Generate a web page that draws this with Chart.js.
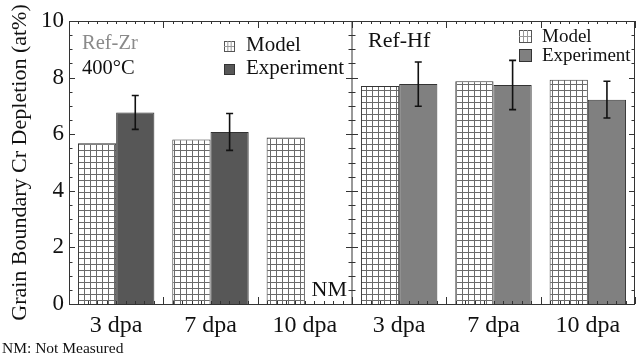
<!DOCTYPE html>
<html>
<head>
<meta charset="utf-8">
<script src="https://cdn.jsdelivr.net/npm/chart.js@4"></script>
<style>
  html, body { margin: 0; padding: 0; background: #fff; }
  #wrap { width: 636px; height: 356px; }
</style>
</head>
<body>
<div id="wrap"><canvas id="depletionChart" width="636" height="356"></canvas></div>
<script>
// values
const doses = ['3 dpa', '7 dpa', '10 dpa'];
const zrModel = [5.68, 5.81, 5.88];
const zrExp = [6.77, 6.08, null];   // 10 dpa not measured
const zrErr = [0.60, 0.65, null];
const hfModel = [7.70, 7.87, 7.92];
const hfExp = [7.77, 7.74, 7.22];
const hfErr = [0.78, 0.87, 0.65];
const yTicks = [0, 2, 4, 6, 8, 10];

const serif = "'Liberation Serif', 'Times New Roman', serif";

// grid hatch for the model bars
const tile = document.createElement('canvas');
tile.width = 6; tile.height = 6;
const tctx = tile.getContext('2d');
tctx.fillStyle = '#fff';
tctx.fillRect(0, 0, 6, 6);
tctx.fillStyle = '#6a6a6a';
tctx.fillRect(0, 0, 1, 6);
tctx.fillRect(0, 0, 6, 1);
const ctx = document.getElementById('depletionChart').getContext('2d');
const hatch = ctx.createPattern(tile, 'repeat');

const expColors = zrExp.map(() => '#575757').concat(hfExp.map(() => '#808080'));
const expErr = zrErr.concat(hfErr);

// error bars on the experiment bars
const errorBars = {
  id: 'errorBars',
  afterDatasetsDraw(chart) {
    const meta = chart.getDatasetMeta(1);
    const y = chart.scales.y;
    const vals = chart.data.datasets[1].data;
    const c = chart.ctx;
    c.save();
    c.strokeStyle = '#111';
    c.lineWidth = 1.6;
    meta.data.forEach((bar, i) => {
      if (vals[i] == null || expErr[i] == null) return;
      const top = y.getPixelForValue(vals[i] + expErr[i]);
      const bot = y.getPixelForValue(vals[i] - expErr[i]);
      c.beginPath();
      c.moveTo(bar.x, top); c.lineTo(bar.x, bot);
      c.moveTo(bar.x - 3.5, top); c.lineTo(bar.x + 3.5, top);
      c.moveTo(bar.x - 3.5, bot); c.lineTo(bar.x + 3.5, bot);
      c.stroke();
    });
    c.restore();
  }
};

// frame, divider, inward ticks, legends and panel labels
const decorations = {
  id: 'decorations',
  afterDraw(chart) {
    const { ctx: c, chartArea: a, scales: { x, y } } = chart;
    const mid = x.getPixelForValue(2.5);
    c.save();
    c.strokeStyle = '#333';
    c.lineWidth = 1;
    c.strokeRect(a.left + 0.5, a.top + 0.5, a.right - a.left - 1, a.bottom - a.top);
    c.beginPath();
    c.moveTo(mid, a.top); c.lineTo(mid, a.bottom);
    // y ticks every 0.5
    for (let v = 0; v <= 10; v += 0.5) {
      const py = Math.round(y.getPixelForValue(v)) + 0.5;
      const len = v % 2 === 0 ? 6 : 3.5;
      c.moveTo(a.left, py); c.lineTo(a.left + len, py);
      c.moveTo(a.right, py); c.lineTo(a.right - len, py);
      c.moveTo(mid - len, py); c.lineTo(mid + len, py);
    }
    // x ticks: boundaries and tenths of a category
    for (let k = 0; k < 6; k++) {
      for (let j = 0; j <= 10; j++) {
        const px = Math.round(x.getPixelForValue(k - 0.5 + j / 10)) + 0.5;
        const len = (j === 0 || j === 10) ? 7 : 3;
        c.moveTo(px, a.top); c.lineTo(px, a.top + len);
        c.moveTo(px, a.bottom); c.lineTo(px, a.bottom - len);
      }
    }
    c.stroke();

    c.textBaseline = 'alphabetic';
    c.textAlign = 'left';
    // panel labels
    c.font = '20.5px ' + serif;
    c.fillStyle = '#8a8a8a';
    c.fillText('Ref-Zr', a.left + 13, a.top + 28);
    c.fillStyle = '#111';
    c.fillText('400°C', a.left + 13, a.top + 53);
    c.font = '22px ' + serif;
    c.fillText('Ref-Hf', mid + 16, a.top + 26);
    c.font = '22px ' + serif;
    c.textAlign = 'right';
    c.fillText('NM', mid - 5, a.bottom - 8);
    c.textAlign = 'left';

    // legends
    const legend = (bx, by, size, gap, tx, fsize, expColor) => {
      c.fillStyle = '#fff';
      c.fillRect(bx, by, size, size);
      c.strokeStyle = '#555';
      c.strokeRect(bx + 0.5, by + 0.5, size, size);
      c.beginPath();
      const third = size / 3;
      c.moveTo(bx + 0.5 + third, by); c.lineTo(bx + 0.5 + third, by + size);
      c.moveTo(bx + 0.5 + 2 * third, by); c.lineTo(bx + 0.5 + 2 * third, by + size);
      c.moveTo(bx, by + 0.5 + size / 2); c.lineTo(bx + size, by + 0.5 + size / 2);
      c.strokeStyle = '#999';
      c.stroke();
      c.fillStyle = expColor;
      c.fillRect(bx, by + gap, size, size);
      c.strokeStyle = '#333';
      c.strokeRect(bx + 0.5, by + gap + 0.5, size, size);
      c.fillStyle = '#111';
      c.font = fsize + 'px ' + serif;
      c.fillText('Model', tx, by + size);
      c.fillText('Experiment', tx, by + gap + size);
    };
    legend(a.left + 155, a.top + 20, 10, 23, a.left + 177, 21, '#575757');
    legend(mid + 167, a.top + 9, 12, 19, mid + 190, 19, '#808080');

    c.font = '15.5px ' + serif;
    c.fillStyle = '#111';
    c.fillText('NM: Not Measured', 2, chart.height - 3);
    c.restore();
  }
};

new Chart(ctx, {
  type: 'bar',
  data: {
    labels: doses.concat(doses),
    datasets: [{
      label: 'Model',
      data: zrModel.concat(hfModel),
      backgroundColor: hatch,
      borderColor: '#333',
      borderWidth: 1,
      categoryPercentage: 0.81,
      barPercentage: 1.0
    }, {
      label: 'Experiment',
      data: zrExp.concat(hfExp),
      backgroundColor: expColors,
      borderColor: '#333',
      borderWidth: 1,
      categoryPercentage: 0.81,
      barPercentage: 1.0
    }]
  },
  options: {
    responsive: false,
    animation: false,
    layout: { padding: { top: 21, right: 1, left: 0, bottom: 0 } },
    plugins: {
      legend: { display: false },
      tooltip: { enabled: false }
    },
    scales: {
      x: {
        grid: { display: false, drawTicks: false },
        border: { display: false },
        ticks: {
          color: '#111',
          font: { family: serif, size: 24 },
          maxRotation: 0,
          autoSkip: false,
          padding: 7
        },
        afterFit(scale) { scale.height = 52; }
      },
      y: {
        min: 0,
        max: 10,
        afterBuildTicks(scale) { scale.ticks = yTicks.map(v => ({ value: v })); },
        grid: { display: false, drawTicks: false },
        border: { display: false },
        ticks: {
          color: '#111',
          font: { family: serif, size: 23 },
          padding: 5
        },
        title: {
          display: true,
          text: 'Grain Boundary Cr Depletion (at%)',
          color: '#111',
          font: { family: serif, size: 22 },
          padding: { top: 7, bottom: 0 }
        },
        afterFit(scale) { scale.width = 69; }
      }
    }
  },
  plugins: [errorBars, decorations]
});
</script>
</body>
</html>
